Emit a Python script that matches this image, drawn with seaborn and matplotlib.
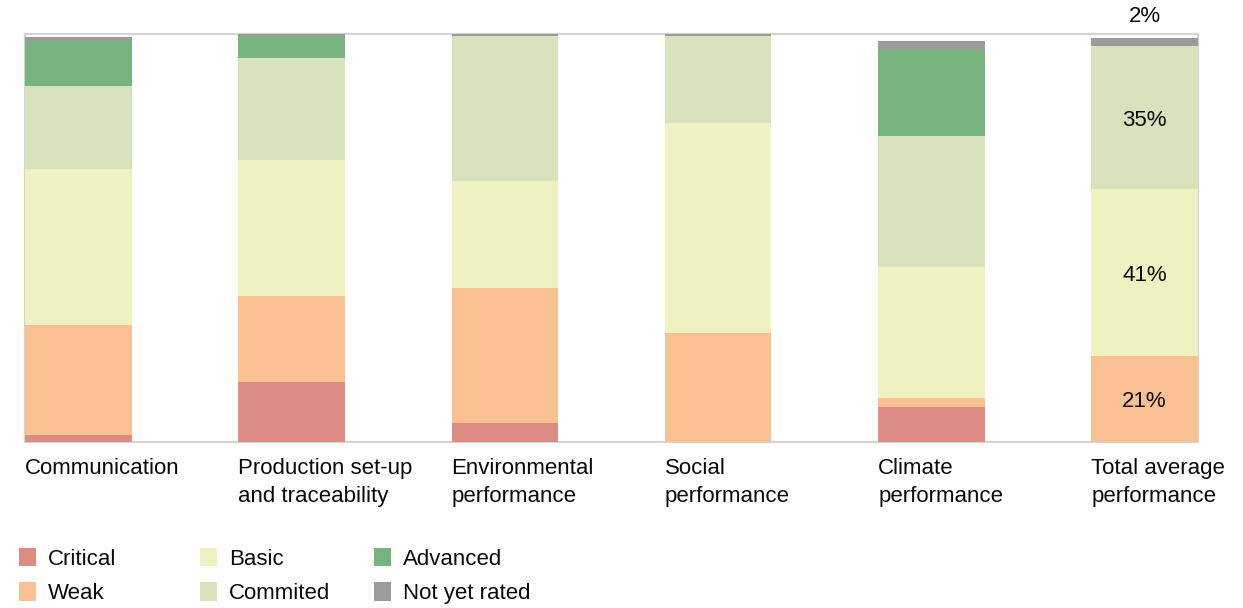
import matplotlib
matplotlib.use("Agg")
import matplotlib.pyplot as plt
from matplotlib.patches import Patch
from matplotlib.transforms import blended_transform_factory
import numpy as np
import pandas as pd
import seaborn as sns

# Share of ratings (%) per performance area
categories = [
    "Communication",
    "Production set-up\nand traceability",
    "Environmental\nperformance",
    "Social\nperformance",
    "Climate\nperformance",
    "Total average\nperformance",
]
critical = [1.7, 14.7, 4.7, 0.0, 8.6, 0.0]
weak = [27.0, 21.1, 33.1, 26.7, 2.2, 21.0]
basic = [38.3, 33.3, 26.2, 51.5, 32.1, 41.0]
committed = [20.3, 25.0, 35.4, 21.2, 32.1, 35.0]
advanced = [11.0, 5.4, 0.0, 0.0, 21.2, 0.0]
not_rated = [0.9, 0.7, 0.8, 0.8, 2.1, 2.0]

levels = ["Critical", "Weak", "Basic", "Commited", "Advanced", "Not yet rated"]
series = [critical, weak, basic, committed, advanced, not_rated]
colors = ["#dc8c83", "#f9c092", "#eef2c0", "#d8e3bd", "#77b37e", "#9b9b9b"]

sns.set_theme(style="white")
plt.rcParams["font.family"] = ["Liberation Sans", "DejaVu Sans"]

FS = 16
TXT = "#0a0a0a"

fig = plt.figure(figsize=(12.43, 6.08), dpi=100)
ax = fig.add_axes([25 / 1243, 1 - 442 / 608, (1198 - 25) / 1243, (442 - 34) / 608])

df = pd.DataFrame({"category": categories})
bottom = np.zeros(len(categories))
for name, vals, col in zip(levels, series, colors):
    df[name] = vals
    sns.barplot(data=df, x="category", y=name, bottom=bottom, color=col,
                width=0.5, linewidth=0, saturation=1, ax=ax, zorder=2)
    bottom = bottom + np.array(vals)

ax.set_xlim(-0.25, len(categories) - 0.75)
ax.set_ylim(0, 100)
ax.set_xticks([])
ax.set_yticks([])
ax.set_xlabel("")
ax.set_ylabel("")
for sp in ax.spines.values():
    sp.set_visible(True)
    sp.set_color("#d4d4d4")
    sp.set_linewidth(1.6)
    sp.set_zorder(1)

# Category labels, left-aligned with each bar
tr = blended_transform_factory(ax.transData, ax.transAxes)
for i, cat in enumerate(categories):
    ax.text(i - 0.25, -0.04, cat, transform=tr, ha="left", va="top",
            fontsize=FS, color=TXT, linespacing=1.4)

# Value labels on the total average bar
last = len(categories) - 1
base = 0.0
for name, vals in zip(levels, series):
    v = vals[last]
    if v > 0:
        if v >= 5:
            ax.annotate(f"{v:.0f}%", xy=(last, base + v / 2), xytext=(0, -2),
                        textcoords="offset points", ha="center", va="center",
                        fontsize=FS, color=TXT, zorder=3)
        else:
            ax.annotate(f"{v:.0f}%", xy=(last, base + v), xytext=(0, 15.5),
                        textcoords="offset points", ha="center", va="center",
                        fontsize=FS, color=TXT, annotation_clip=False)
    base += v

# Legend in three fixed columns
col_x = [19, 200, 374]
for c in range(3):
    handles = [Patch(facecolor=colors[2 * c + r], edgecolor="none",
                     label=levels[2 * c + r]) for r in range(2)]
    leg = fig.legend(handles=handles, loc="upper left",
                     bbox_to_anchor=(col_x[c] / 1243, 1 - 548 / 608),
                     frameon=False, fontsize=FS, borderpad=0, borderaxespad=0,
                     handlelength=0.77, handleheight=0.9, handletextpad=0.55,
                     labelspacing=0.55)
    for t in leg.get_texts():
        t.set_color(TXT)

fig.savefig("out.png", dpi=100)
